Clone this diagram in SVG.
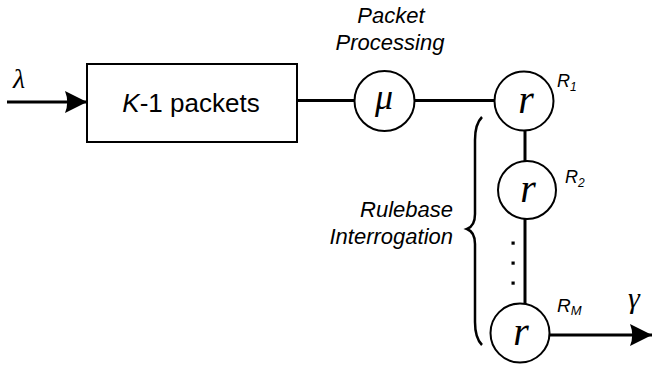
<svg xmlns="http://www.w3.org/2000/svg" width="652" height="369" viewBox="0 0 652 369">
<style>
.node{fill:#fff;stroke:#000;stroke-width:2}
.wire{fill:none;stroke:#000;stroke-width:3}
.sym{font-family:"Liberation Serif","Times New Roman",serif;font-style:italic;fill:#000}
.lbl{font-family:"Liberation Sans",Arial,sans-serif;font-style:italic;font-size:22px;fill:#000}
.rl{font-family:"Liberation Sans",Arial,sans-serif;font-style:italic;fill:#000}
.up{font-family:"Liberation Sans",Arial,sans-serif;font-style:normal;fill:#000}
.it{font-style:italic}
</style>
<defs>
<marker id="ah" markerUnits="userSpaceOnUse" markerWidth="22" markerHeight="22" viewBox="0 0 20 20" refX="20" refY="10" orient="auto">
<path d="M0,0 L20,10 L0,20 Q4,10 0,0 Z" fill="#000"/>
</marker>
</defs>
<rect width="652" height="369" fill="#fff"/>
<g id="connectors">
<line class="wire" x1="7" y1="102" x2="87" y2="102" marker-end="url(#ah)"/>
<line class="wire" x1="297" y1="100.5" x2="354" y2="100.5"/>
<line class="wire" x1="415" y1="100.5" x2="494" y2="100.5"/>
<line class="wire" x1="525" y1="130" x2="525" y2="162"/>
<line class="wire" x1="525" y1="218" x2="525" y2="304"/>
<line class="wire" x1="550" y1="335" x2="652" y2="335" marker-end="url(#ah)"/>
</g>
<g id="dots" fill="#000">
<rect x="511.5" y="241.5" width="3.2" height="3.2"/>
<rect x="511.5" y="261.5" width="3.2" height="3.2"/>
<rect x="511.5" y="281.5" width="3.2" height="3.2"/>
</g>
<g id="brace">
<path d="M482,117 Q475,124 475,140 L475,214 Q475,226 467,229 Q475,232 475,244 L475,322 Q475,338 482,345" fill="none" stroke="#000" stroke-width="2.5"/>
</g>
<g id="lambda"><text class="sym" x="19" y="88" font-size="28" text-anchor="middle">λ</text></g>
<g id="queue">
<rect class="node" x="87" y="64" width="210" height="78"/>
<text class="up" x="191" y="112" font-size="26" text-anchor="middle"><tspan class="it">K</tspan>-1 packets</text>
</g>
<g id="mu">
<circle class="node" cx="384.5" cy="101" r="30"/>
<text class="sym" x="384" y="109" font-size="36" text-anchor="middle">μ</text>
<text class="lbl" x="391" y="23" text-anchor="middle">Packet</text>
<text class="lbl" x="390" y="50" text-anchor="middle">Processing</text>
</g>
<g id="r1">
<circle class="node" cx="524" cy="101" r="29.5"/>
<text class="sym" x="526" y="113" font-size="40" text-anchor="middle">r</text>
<text class="rl" x="557" y="87" font-size="18">R<tspan font-size="12" dy="4">1</tspan></text>
</g>
<g id="r2">
<circle class="node" cx="527" cy="190" r="29"/>
<text class="sym" x="528" y="202" font-size="40" text-anchor="middle">r</text>
<text class="rl" x="565" y="183" font-size="18">R<tspan font-size="12" dy="4">2</tspan></text>
</g>
<g id="rm">
<circle class="node" cx="520" cy="333" r="29.5"/>
<text class="sym" x="521" y="345" font-size="40" text-anchor="middle">r</text>
<text class="rl" x="557" y="312" font-size="19">R<tspan font-size="13" dy="3">M</tspan></text>
</g>
<g id="gamma"><text class="sym" x="634" y="308" font-size="30" text-anchor="middle">γ</text></g>
<g id="rulebase-label">
<text class="lbl" x="453" y="217" text-anchor="end">Rulebase</text>
<text class="lbl" x="453" y="244" text-anchor="end">Interrogation</text>
</g>
</svg>
